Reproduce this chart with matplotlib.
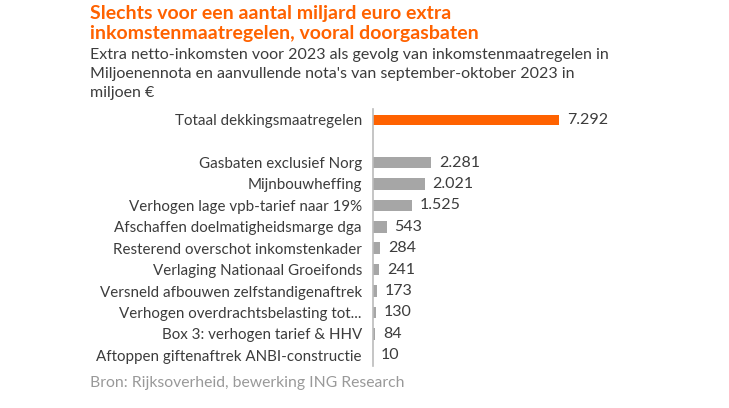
import numpy as np
import matplotlib.pyplot as plt

# Data (miljoen euro)
labels = ["Totaal dekkingsmaatregelen", "",
          "Gasbaten exclusief Norg", "Mijnbouwheffing",
          "Verhogen lage vpb-tarief naar 19%", "Afschaffen doelmatigheidsmarge dga",
          "Resterend overschot inkomstenkader", "Verlaging Nationaal Groeifonds",
          "Versneld afbouwen zelfstandigenaftrek", "Verhogen overdrachtsbelasting tot...",
          "Box 3: verhogen tarief & HHV", "Aftoppen giftenaftrek ANBI-constructie"]
values = [7292, None, 2281, 2021, 1525, 543, 284, 241, 173, 130, 84, 10]

orange = "#FF6200"
grey = "#A6A6A6"
txt = "#3C3C3C"

plt.rcParams['font.family'] = ['Lato', 'DejaVu Sans']

fig = plt.figure(figsize=(7.29, 4.08), dpi=100)
ax = fig.add_axes([373/729, 1-366/408, 230/729, 257/408])

ypos = np.arange(len(labels))
for y, v in zip(ypos, values):
    if v is None:
        continue
    col = orange if y == 0 else grey
    h = 0.47 if y == 0 else 0.54
    ax.barh(y, v, height=h, color=col, left=0)
    ax.text(v + 300, y, f"{v:,}".replace(",", "."), va="center", ha="left",
            fontsize=11.5, color=txt)

ax.set_ylim(len(labels) - 0.5, -0.5)
ax.set_xlim(0, 9000)
ax.set_yticks(ypos)
ax.set_yticklabels(labels, fontsize=10.9, color=txt)
ax.tick_params(axis="y", length=0, pad=8)
ax.set_xticks([])
for s in ["top", "right", "bottom"]:
    ax.spines[s].set_visible(False)
ax.spines["left"].set_color("#BBBBBB")
ax.spines["left"].set_linewidth(1.2)

fig.text(90/729, 1-5/408, "Slechts voor een aantal miljard euro extra\ninkomstenmaatregelen, vooral doorgasbaten",
         ha="left", va="top", fontsize=14, fontweight="bold", color=orange, linespacing=1.22)
fig.text(90/729, 1-48/408, "Extra netto-inkomsten voor 2023 als gevolg van inkomstenmaatregelen in\n"
         "Miljoenennota en aanvullende nota's van september-oktober 2023 in\nmiljoen €",
         ha="left", va="top", fontsize=11.5, color=txt, linespacing=1.45)
fig.text(90/729, 1-383/408, "Bron: Rijksoverheid, bewerking ING Research",
         ha="left", va="center", fontsize=11.3, color="#999999")

fig.savefig("out.png", dpi=100)
